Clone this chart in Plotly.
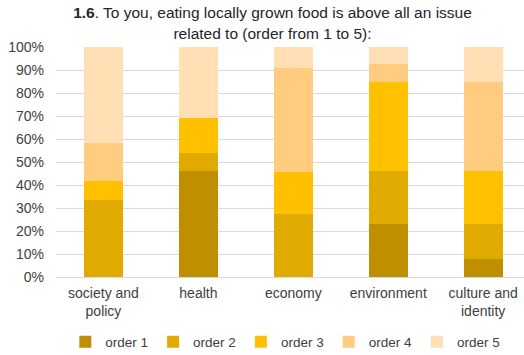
import plotly.graph_objects as go

categories = ["society and<br>policy", "health", "economy", "environment", "culture and<br>identity"]
series_names = ["order 1", "order 2", "order 3", "order 4", "order 5"]
order1 = [0.0, 46.2, 0.0, 23.1, 7.7]
order2 = [33.3, 7.7, 27.3, 23.1, 15.4]
order3 = [8.3, 15.4, 18.2, 38.5, 23.1]
order4 = [16.7, 0.0, 45.5, 7.7, 38.5]
order5 = [41.7, 30.8, 9.1, 7.7, 15.4]
series_values = [order1, order2, order3, order4, order5]
colors = ["#BF8F00", "#E0AA00", "#FFC000", "#FFCC80", "#FFDFB3"]
y_ticks = list(range(0, 101, 10))
y_tick_labels = [f"{v}%" for v in y_ticks]

fig = go.Figure()
for name, vals, col in zip(series_names, series_values, colors):
    fig.add_trace(go.Bar(
        x=list(range(len(categories))), y=vals, name=name,
        marker=dict(color=col, line=dict(width=0)),
        hoverinfo="y+name",
    ))

font_family = "Liberation Sans, Arial, sans-serif"
fig.update_layout(
    barmode="stack",
    bargap=0.59,
    width=524, height=355,
    margin=dict(l=56, r=0, t=47, b=78, autoexpand=False),
    paper_bgcolor="white", plot_bgcolor="white",
    font=dict(family=font_family, size=14, color="#595959"),
    title=dict(
        text="<b>1.6</b>. To you, eating locally grown food is above all an issue<br>related to (order from 1 to 5):",
        x=0.52, xanchor="center", y=0.948, yref="container", yanchor="middle",
        font=dict(family=font_family, size=15.5, color="#262626"),
    ),
    xaxis=dict(
        tickmode="array", tickvals=list(range(len(categories))), ticktext=categories,
        range=[-0.5, 4.43], showgrid=False, zeroline=False,
        showline=False, ticks="", tickfont=dict(size=14, color="#404040"),
        ticklabelstandoff=6,
    ),
    yaxis=dict(
        range=[0, 100], tickvals=y_ticks, ticktext=y_tick_labels,
        showgrid=True, gridcolor="#D9D9D9", gridwidth=1,
        zeroline=True, zerolinecolor="#D9D9D9", zerolinewidth=1,
        tickfont=dict(size=14, color="#404040"), ticklabelstandoff=11,
    ),
    legend=dict(
        orientation="h", x=0.49, xanchor="center",
        yref="container", y=0.037, yanchor="middle",
        font=dict(size=13.5, color="#404040"), itemwidth=30,
        traceorder="normal", itemclick=False,
    ),
)

fig.write_html("out.html")
